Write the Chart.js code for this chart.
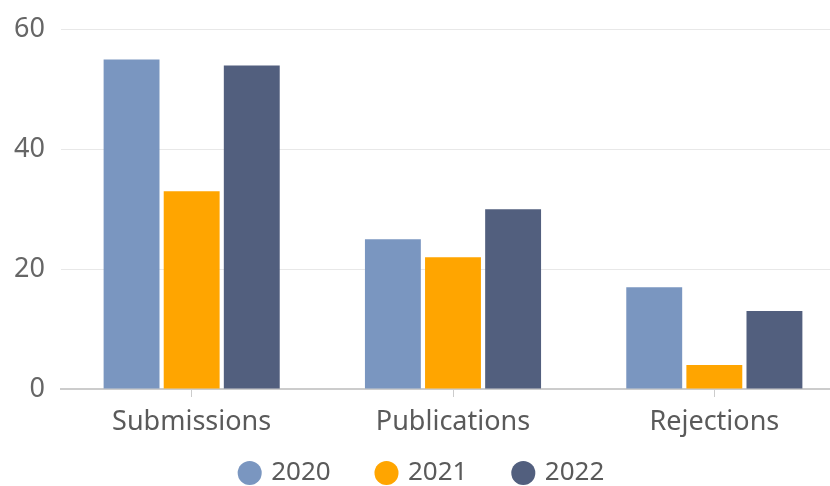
<!DOCTYPE html>
<html>
<head>
<meta charset="utf-8">
<script src="https://cdn.jsdelivr.net/npm/chart.js@4"></script>
<style>
  html, body { margin: 0; padding: 0; background: #fff; overflow: hidden; }
  .wrap { width: 845px; height: 486px; }
</style>
</head>
<body>
<div class="wrap"><canvas class="chart_canvas"></canvas></div>
<script>
const categorias = ["Submissions", "Publications", "Rejections"];
const anos = ["2020", "2021", "2022"];
const valores2020 = [55, 25, 17];
const valores2021 = [33, 22, 4];
const valores2022 = [54, 30, 13];
const cores = ["#7a96c0", "#ffa500", "#525f7e"];
const ticksY = [0, 20, 40, 60];

const chartCanvas = document.querySelector(".chart_canvas");
const fonte = "'Noto Sans', 'Open Sans', sans-serif";

const series = [valores2020, valores2021, valores2022];

// espaco entre itens da legenda (sem padding vertical extra)
const espacoLegenda = "       ";

var chart = new Chart(chartCanvas, {
    type: "bar",
    data: {
        labels: categorias,
        datasets: series.map((dados, i) => ({
            label: anos[i],
            data: dados,
            backgroundColor: cores[i],
            borderWidth: 0,
            barPercentage: 0.93,
            categoryPercentage: 0.69
        }))
    },
    options: {
        responsive: true,
        maintainAspectRatio: false,
        animation: false,
        layout: { padding: { top: 8, left: 14, right: 0, bottom: -10 } },
        plugins: {
            tooltip: { enabled: false },
            legend: {
                position: "bottom",
                labels: {
                    usePointStyle: true,
                    pointStyle: "circle",
                    boxWidth: 17,
                    boxHeight: 17,
                    padding: 0,
                    textAlign: "left",
                    color: "#5a5a5a",
                    font: { family: fonte, size: 26, lineHeight: 1 },
                    generateLabels: c => {
                        const itens = Chart.defaults.plugins.legend.labels.generateLabels(c);
                        itens.forEach((it, i) => {
                            it.text = it.text + (i < itens.length - 1 ? espacoLegenda : "  ");
                        });
                        return itens;
                    }
                }
            }
        },
        scales: {
            x: {
                afterFit: scale => { scale.height = 71; },
                grid: { offset: false, drawOnChartArea: false, drawTicks: true, tickLength: 8, color: "#ccc" },
                border: { color: "#ccc", width: 2 },
                ticks: { color: "#5a5a5a", padding: 9, font: { family: fonte, size: 27 } }
            },
            y: {
                min: 0,
                max: 60,
                afterFit: scale => { scale.width = 47; },
                afterBuildTicks: axis => { axis.ticks = ticksY.map(v => ({ value: v })); },
                grid: { color: "#e8e8e8", drawTicks: false },
                border: { display: false },
                ticks: { color: "#666", padding: 16, font: { family: fonte, size: 27, lineHeight: 1 } }
            }
        }
    }
});
</script>
</body>
</html>
